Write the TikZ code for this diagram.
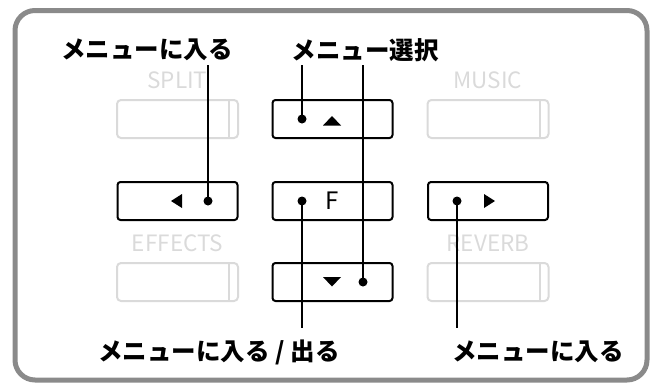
\documentclass[tikz,border=0pt]{standalone}
\usepackage{fontspec}
\setmainfont{Noto Sans CJK JP}
\usetikzlibrary{positioning}
\definecolor{framegray}{HTML}{8A8A8A}
\definecolor{dimgray}{HTML}{DADADA}
\begin{document}
\begin{tikzpicture}[x=1pt,y=-1pt,
  btn/.style={draw,line width=2pt,rounded corners=3pt,minimum width=120pt,minimum height=38pt,inner sep=0pt},
  dimbtn/.style={draw=dimgray,line width=2pt,rounded corners=4pt,minimum width=121pt,minimum height=38pt,inner sep=0pt},
  dimlbl/.style={text=dimgray,font=\fontsize{22.5}{24}\selectfont,inner sep=0pt},
  menulbl/.style={font=\bfseries\fontsize{24.5}{26}\selectfont,inner sep=0pt},
  lead/.style={line width=2pt}]
\useasboundingbox(0,0)rectangle(654,383);
\draw[framegray,line width=5pt,rounded corners=20pt](15,10.5)rectangle(647,380);
% dim buttons with their labels
\foreach\nm/\x/\y/\t in{split/177.5/119/SPLIT,music/488/119/MUSIC,effects/177.5/282/EFFECTS,reverb/488/282/REVERB}{
  \node[dimbtn](\nm)at(\x,\y){};
  \draw[dimgray,line width=2pt]([xshift=-10pt]\nm.north east)--([xshift=-10pt]\nm.south east);
  \node[dimlbl]at(\x,\y-39){\t};}
% black buttons
\node[btn](up)at(332.5,119){};\node[btn](fbtn)at(332.5,201){};\node[btn](down)at(332.5,282){};
\node[btn](left)at(177.5,201){};\node[btn](right)at(488,201){};
\fill(323,125.5)--(341,125.5)--(332,116)--cycle;
\fill(323,277)--(341,277)--(332,286.5)--cycle;
\fill(182,194)--(182,208)--(171,201)--cycle;
\fill(484,194)--(484,208)--(495,201)--cycle;
\node[font=\fontsize{24}{26}\selectfont,inner sep=0pt](ftxt)at(332,201){F};
% dots
\foreach\n/\x/\y in{dl/208/201,du/302/119,df/302/201,dd/363/282,dr/457/201}{\fill(\x,\y)circle(4.5pt)coordinate(\n);}
% labels
\node[menulbl](lblin)at(147,50){メニューに入る};
\node[menulbl](lblsel)at(365,50){メニュー選択};
\node[menulbl](lblinout)at(219,352){メニューに入る / 出る};
\node[menulbl](lblin2)at(538,352){メニューに入る};
% leader ends
\coordinate(tl)at(208,65);\coordinate(tu)at(302,65);\coordinate(td)at(363,65);
\coordinate(bf)at(302,328);\coordinate(br)at(457,328);
\draw[lead](dl)--(tl);\draw[lead](du)--(tu);\draw[lead](dd)--(td);
\draw[lead](df)--(bf);\draw[lead](dr)--(br);
\end{tikzpicture}
\end{document}
